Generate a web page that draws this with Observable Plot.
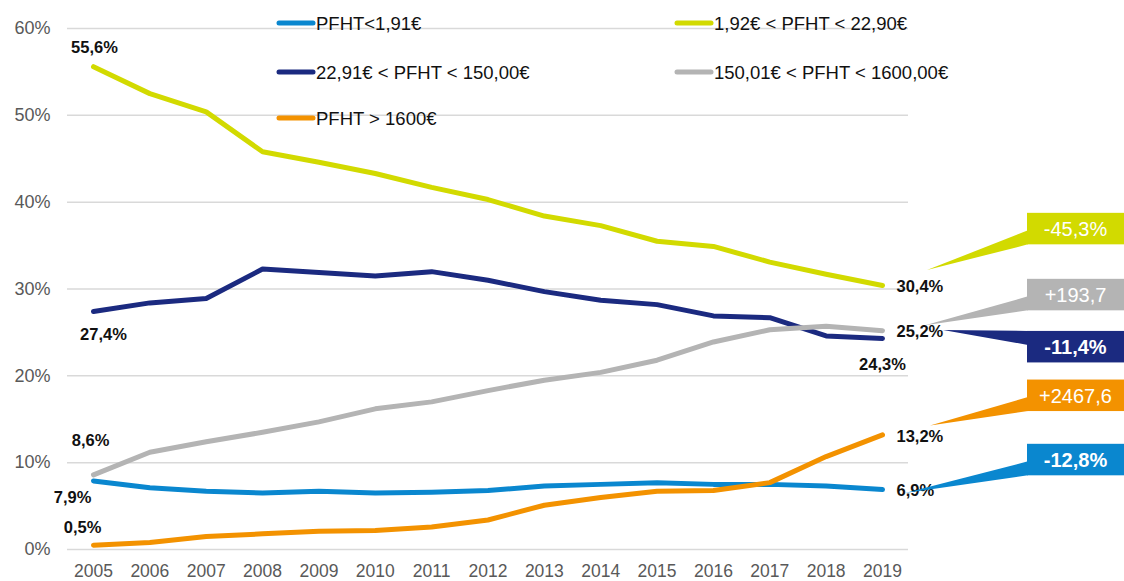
<!DOCTYPE html>
<html><head><meta charset="utf-8">
<script src="https://cdn.jsdelivr.net/npm/d3@7"></script>
<script src="https://cdn.jsdelivr.net/npm/@observablehq/plot@0.6"></script>
<style>
html,body{margin:0;padding:0;background:#fff;}
#chart{position:relative;width:1124px;height:581px;overflow:hidden;}
</style></head><body><div id="chart"></div>
<script>
// ---------- data ----------
const years = [2005,2006,2007,2008,2009,2010,2011,2012,2013,2014,2015,2016,2017,2018,2019];
const seriesNames = ["PFHT<1,91€", "1,92€ < PFHT < 22,90€", "22,91€ < PFHT < 150,00€", "150,01€ < PFHT < 1600,00€", "PFHT > 1600€"];
const valLow    = [7.9, 7.1, 6.7, 6.5, 6.7, 6.5, 6.6, 6.8, 7.3, 7.5, 7.7, 7.5, 7.5, 7.3, 6.9];
const valMid1   = [55.6, 52.5, 50.4, 45.8, 44.6, 43.3, 41.7, 40.3, 38.4, 37.3, 35.5, 34.9, 33.1, 31.7, 30.4];
const valMid2   = [27.4, 28.4, 28.9, 32.3, 31.9, 31.5, 32.0, 31.0, 29.7, 28.7, 28.2, 26.9, 26.7, 24.6, 24.3];
const valMid3   = [8.6, 11.2, 12.4, 13.5, 14.7, 16.2, 17.0, 18.3, 19.5, 20.4, 21.8, 23.9, 25.3, 25.7, 25.2];
const valHigh   = [0.5, 0.8, 1.5, 1.8, 2.1, 2.2, 2.6, 3.4, 5.1, 6.0, 6.7, 6.8, 7.7, 10.7, 13.2];
const changeLabels = ["-12,8%", "-45,3%", "-11,4%", "+193,7", "+2467,6"];
const yTicks = [0, 10, 20, 30, 40, 50, 60];

// ---------- styles / layout ----------
const seriesColors = ["#0a87cf", "#d2da00", "#1b2a80", "#b4b4b4", "#f39200"];
const seriesValues = [valLow, valMid1, valMid2, valMid3, valHigh];
const changeBold = [true, false, true, false, false];
const calloutLevel = [10.3, 36.9, 23.3, 29.3, 17.7];   // % level of callout box centres
const apexOffset = [[23, 4], [45, -15], [61, -8], [43, -5], [48, -9]];
// [anchor, dx, dy] for first and last point labels
const firstLabel = [["middle", -21, 17], ["middle", 1, -19], ["middle", 10, 23], ["middle", -3, -34], ["middle", -11, -17]];
const lastLabel  = [["start", 14, 1], ["start", 14, 1], ["middle", 0, 26], ["start", 14, 1], ["start", 14, 2]];
const legendX = [277, 675], legendY = [23, 72, 118];
const FONT = "'Liberation Sans', Arial, sans-serif";

const fmt = v => d3.format(".1f")(v).replace(".", ",") + "%";

const rows = [];
seriesNames.forEach((name, i) => years.forEach((yr, j) => rows.push({series: name, idx: i, year: yr, value: seriesValues[i][j]})));

const labelMarks = [];
seriesNames.forEach((name, i) => {
  const v = seriesValues[i];
  [[0, firstLabel[i]], [v.length - 1, lastLabel[i]]].forEach(([j, [anchor, dx, dy]]) => {
    labelMarks.push(Plot.text([{year: years[j], value: v[j]}], {
      x: "year", y: "value", text: d => fmt(d.value), textAnchor: anchor, dx, dy,
      fill: "#111", fontWeight: "bold", fontSize: 16.5, fontFamily: FONT
    }));
  });
});

function legendMark(index, scales, values, dimensions) {
  const g = d3.create("svg:g").attr("font-family", FONT).attr("font-size", 18.5).attr("text-anchor", "start");
  seriesNames.forEach((name, i) => {
    const x = legendX[i % 2], y = legendY[Math.floor(i / 2)];
    g.append("line").attr("x1", x + 2).attr("x2", x + 36).attr("y1", y).attr("y2", y)
      .attr("stroke", seriesColors[i]).attr("stroke-width", 5).attr("stroke-linecap", "round");
    g.append("text").attr("x", x + 39).attr("y", y).attr("dy", "0.36em").attr("text-anchor", "start").attr("fill", "#111").text(name);
  });
  return g.node();
}

function calloutMark(index, scales, values, dimensions) {
  const g = d3.create("svg:g").attr("font-family", FONT);
  const x0 = scales.x(years[years.length - 1]);
  const boxLeft = dimensions.width - 97, boxH = 31.5;
  seriesNames.forEach((name, i) => {
    const v = seriesValues[i];
    const ax = x0 + apexOffset[i][0], ay = scales.y(v[v.length - 1]) + apexOffset[i][1];
    const cy = scales.y(calloutLevel[i]);
    const top = cy - boxH / 2, bot = cy + boxH / 2;
    const below = ay > cy;
    const e1 = below ? bot : top, e2 = below ? bot - 14 : top + 14;
    g.append("path").attr("d", `M${ax},${ay}L${boxLeft + 1},${e2}L${boxLeft + 1},${e1}Z`).attr("fill", seriesColors[i]);
    g.append("rect").attr("x", boxLeft).attr("y", top).attr("width", 97).attr("height", boxH).attr("fill", seriesColors[i]);
    g.append("text").attr("x", boxLeft + 48.5).attr("y", cy).attr("dy", "0.36em").attr("text-anchor", "middle")
      .attr("fill", "#fff").attr("font-size", 20).attr("font-weight", changeBold[i] ? "bold" : "normal").text(changeLabels[i]);
  });
  return g.node();
}

const plot = Plot.plot({
  width: 1124, height: 581,
  marginTop: 28, marginBottom: 32, marginLeft: 67, marginRight: 216,
  insetLeft: 26, insetRight: 26,
  style: {fontFamily: FONT, fontSize: "18px", background: "#fff", overflow: "visible"},
  x: {domain: [years[0], years[years.length - 1]]},
  y: {domain: [0, 60]},
  marks: [
    Plot.ruleY(yTicks, {stroke: "#d9d9d9", strokeWidth: 1.5}),
    Plot.axisY({ticks: yTicks, tickSize: 0, tickPadding: 17, tickFormat: d => d + "%", label: null, fill: "#595959", fontSize: 18}),
    Plot.axisX({ticks: years, tickSize: 0, tickPadding: 15, tickFormat: d => String(d), label: null, fill: "#595959", fontSize: 17.5}),
    legendMark,
    Plot.line(rows, {x: "year", y: "value", z: "series", stroke: d => seriesColors[d.idx], strokeWidth: 5, strokeLinejoin: "round", strokeLinecap: "round"}),
    ...labelMarks,
    calloutMark
  ]
});
document.getElementById("chart").appendChild(plot);
</script></body></html>
